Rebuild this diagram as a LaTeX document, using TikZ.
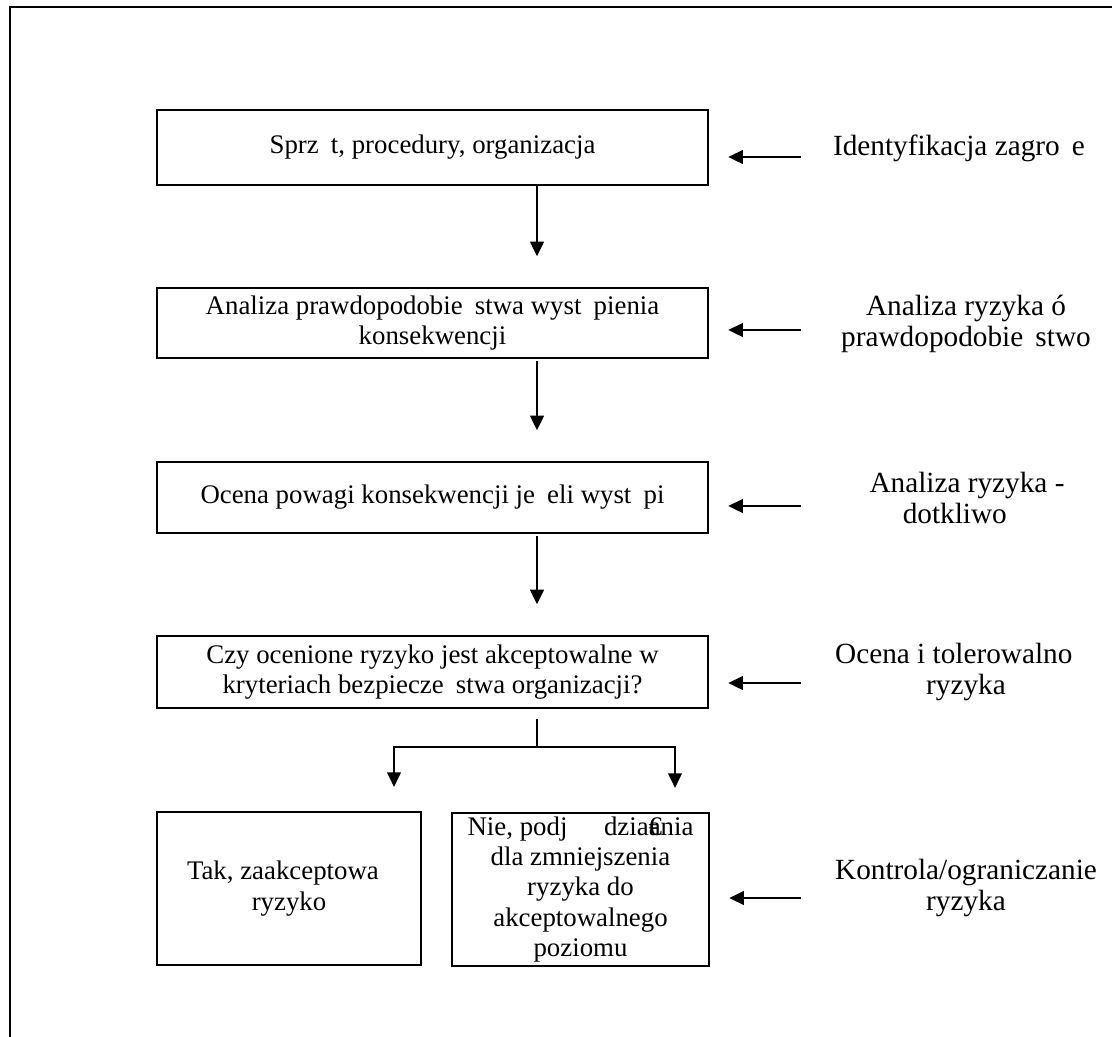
\documentclass[tikz,border=0pt]{standalone}
\usepackage{fontspec}
\setmainfont{Liberation Serif}
\usetikzlibrary{positioning,arrows.meta,calc}
\newcommand{\luka}{\hspace*{5pt}}

\begin{document}
\begin{tikzpicture}[x=0.41pt,y=-0.41pt,
            krok/.style={rectangle, draw, line width=1pt, align=center,
                inner sep=0pt, minimum width=225.9pt,
                font=\fontsize{11}{12.4}\selectfont},
            opis/.style={align=center, inner sep=0pt,
                font=\fontsize{12}{13}\selectfont},
            strz/.style={line width=0.9pt, -{Triangle[length=6pt,width=5.6pt]}},
            rama/.style={line width=1.2pt}]

            \useasboundingbox (0,0) rectangle (1112,1036);
            \draw[rama] (10,7) rectangle (1140,1060);

            \node [krok,minimum height=30.75pt] (b1) at (432.5,147.5)
                {Sprz\luka t, procedury, organizacja};
            \node [krok,minimum height=28.7pt] (b2) at (432.5,323)
                {Analiza prawdopodobie\luka stwa wyst\luka pienia\\konsekwencji};
            \node [krok,minimum height=29.1pt] (b3) at (432.5,497.5)
                {Ocena powagi konsekwencji je\luka eli wyst\luka pi};
            \node [krok,minimum height=29.5pt] (b4) at (432.5,672)
                {Czy ocenione ryzyko jest akceptowalne w\\kryteriach bezpiecze\luka stwa organizacji?};
            \node [krok,minimum width=108.2pt,minimum height=62.7pt] (tak) at (289,888.5)
                {Tak, zaakceptowa\luka\\ryzyko};
            \node [krok,minimum width=105.4pt,minimum height=62.7pt] (nie) at (580.5,889.5)
                {Nie, podj\luka\luka\luka dzia\rlap{€}ania\\dla zmniejszenia\\ryzyka do\\akceptowalnego\\poziomu};

            \node [opis] (r1) at (959,148) {Identyfikacja zagro\luka e};
            \node [opis] (r2) at (966,324) {Analiza ryzyka ó\\prawdopodobie\luka stwo};
            \node [opis] (r3) at (967,498) {Analiza ryzyka -\\dotkliwo\luka\luka};
            \node [opis] (r4) at (966,672) {Ocena i tolerowalno\luka\luka\\ryzyka};
            \node [opis] (r5) at (966,888) {Kontrola/ograniczanie\\ryzyka};

            \draw [strz,shorten >=7.8pt] ($(b1.east)+(92,9.5)$) -- ($(b1.east)+(0,9.5)$);
            \draw [strz,shorten >=7.8pt] ($(b2.east)+(92,7)$) -- ($(b2.east)+(0,7)$);
            \draw [strz,shorten >=7.8pt] ($(b3.east)+(92,8.5)$) -- ($(b3.east)+(0,8.5)$);
            \draw [strz,shorten >=7.8pt] ($(b4.east)+(92,11)$) -- ($(b4.east)+(0,11)$);
            \draw [strz,shorten >=7.8pt] ($(nie.east)+(91,8.5)$) -- ($(nie.east)+(0,8.5)$);

            \draw [strz,shorten >=12.5pt] ($(b1.south)+(104.5,0)$) -- ($(b2.north)+(104.5,0)$);
            \draw [strz,shorten >=12.5pt] ($(b2.south)+(104.5,2)$) -- ($(b3.north)+(104.5,0)$);
            \draw [strz,shorten >=12.5pt] ($(b3.south)+(104.5,2)$) -- ($(b4.north)+(104.5,0)$);

            \coordinate (rozw) at ($(b4.south)+(104.5,38)$);
            \draw [line width=0.9pt] ($(b4.south)+(104.5,10)$) -- (rozw);
            \draw [strz,shorten >=9.8pt] (rozw) -| ($(tak.north)+(105,0)$);
            \draw [strz,shorten >=9.8pt] (rozw) -| ($(nie.north)+(94.5,0)$);
        \end{tikzpicture}
\end{document}
